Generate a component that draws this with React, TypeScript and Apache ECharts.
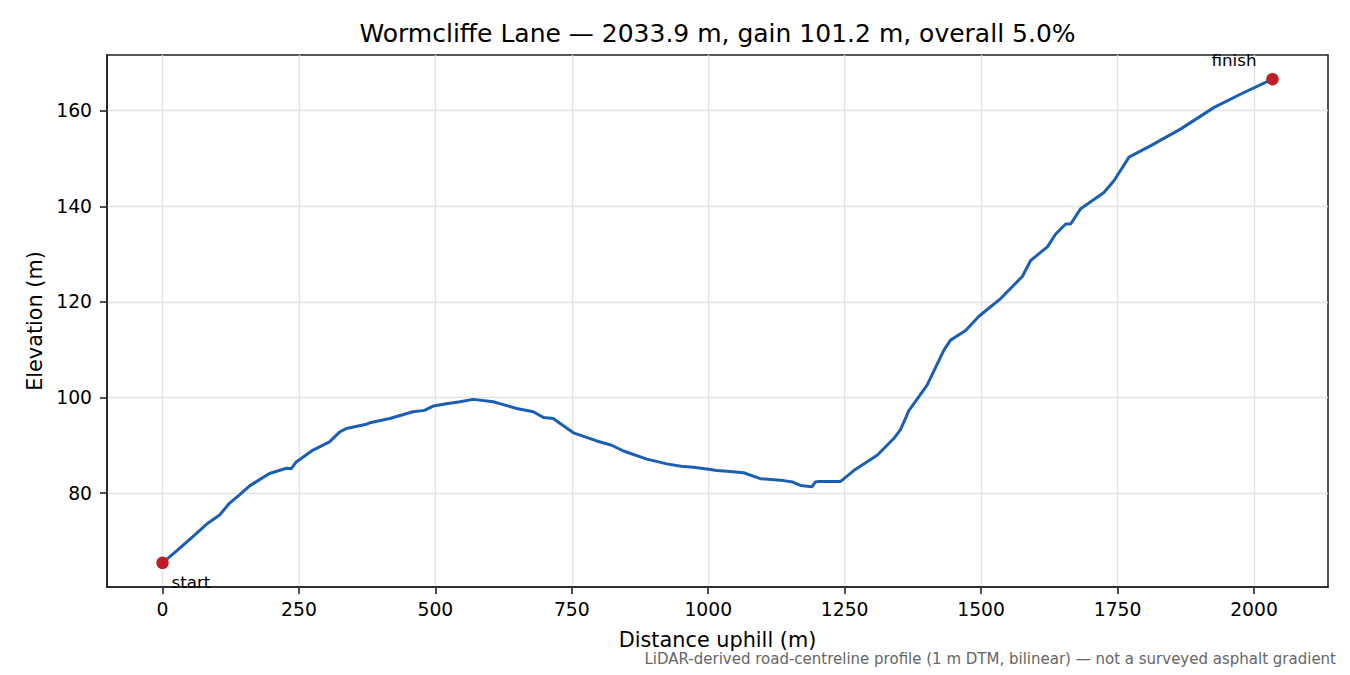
import * as echarts from 'echarts';
import { useEffect, useRef } from 'react';

// distance along the lane (m) and elevation (m)
const distances = [
  0, 28, 55.6, 83, 104.6, 123, 141, 159.6, 196, 227, 236, 245, 275.8, 306, 324.8, 337, 373.7, 380,
  416.5, 459, 480, 496, 520.5, 545, 569, 606, 618, 649, 679.5, 698, 716, 728, 753, 795.7, 823,
  844.6, 887.5, 924, 950, 973, 1000, 1016, 1040, 1064.8, 1095.4, 1138, 1155, 1168.8, 1190, 1196,
  1202.4, 1242, 1266.6, 1309.5, 1340, 1352, 1361.5, 1367.6, 1370.6, 1401, 1431.8, 1444, 1471.6,
  1496, 1535.8, 1575.5, 1591, 1621.4, 1636.7, 1655, 1664, 1682.5, 1725, 1743.7, 1771, 1811, 1866,
  1927, 1976, 2033.9,
];
const elevations = [
  65.4, 68.1, 70.9, 73.7, 75.4, 77.9, 79.6, 81.5, 84.1, 85.2, 85.1, 86.5, 89.0, 90.7, 92.8, 93.5,
  94.4, 94.7, 95.6, 97.0, 97.3, 98.2, 98.7, 99.1, 99.6, 99.1, 98.7, 97.7, 97.0, 95.8, 95.6, 94.6,
  92.6, 90.9, 90.0, 88.8, 87.1, 86.1, 85.6, 85.4, 85.0, 84.7, 84.5, 84.25, 83.0, 82.6, 82.3, 81.6,
  81.3, 82.3, 82.4, 82.4, 84.7, 87.9, 91.4, 93.2, 95.6, 97.3, 97.7, 102.6, 109.9, 112.0, 114.0,
  117.0, 120.7, 125.3, 128.7, 131.5, 134.2, 136.3, 136.3, 139.5, 142.9, 145.4, 150.3, 152.7,
  156.2, 160.7, 163.5, 166.6,
];

const xTicks = [0, 250, 500, 750, 1000, 1250, 1500, 1750, 2000];
const yTicks = [80, 100, 120, 140, 160];

const titleText = 'Wormcliffe Lane — 2033.9 m, gain 101.2 m, overall 5.0%';
const noteText = 'LiDAR-derived road-centreline profile (1 m DTM, bilinear) — not a surveyed asphalt gradient';

const font = 'DejaVu Sans';
const ink = '#222222';

export default function App() {
  const container = useRef<HTMLDivElement | null>(null);

  useEffect(() => {
    if (!container.current) return;
    const chart = echarts.init(container.current, null, { renderer: 'svg' });

    const profile = distances.map((d, i) => [d, elevations[i]]);
    const last = profile.length - 1;

    chart.setOption({
      animation: false,
      backgroundColor: '#ffffff',
      textStyle: { fontFamily: font },
      title: {
        text: titleText,
        left: 712.5,
        top: 16,
        textAlign: 'center',
        textStyle: { fontFamily: font, fontSize: 25, fontWeight: 'normal', color: '#000' },
      },
      grid: {
        left: 107,
        right: 22,
        top: 55,
        bottom: 88,
        show: true,
        borderColor: ink,
        borderWidth: 1.6,
      },
      xAxis: {
        type: 'value',
        min: -101.7,
        max: 2135.6,
        name: 'Distance uphill (m)',
        nameLocation: 'middle',
        nameGap: 42,
        nameTextStyle: { fontFamily: font, fontSize: 20.8, color: '#000' },
        axisLine: { show: true, onZero: false, lineStyle: { color: ink, width: 1.6 } },
        axisTick: { show: true, length: 7, customValues: xTicks, lineStyle: { color: ink, width: 1.6 } },
        axisLabel: {
          customValues: xTicks,
          margin: 13,
          fontFamily: font,
          fontSize: 18.75,
          color: '#000',
          formatter: (v: number) => String(v),
        },
        splitLine: { show: true, lineStyle: { color: '#e3e3e3', width: 1.3 } },
      },
      yAxis: {
        type: 'value',
        min: 60.34,
        max: 171.66,
        name: 'Elevation (m)',
        nameLocation: 'middle',
        nameGap: 61,
        nameRotate: 90,
        nameTextStyle: { fontFamily: font, fontSize: 20.8, color: '#000' },
        axisLine: { show: true, onZero: false, lineStyle: { color: ink, width: 1.6 } },
        axisTick: { show: true, length: 7, customValues: yTicks, lineStyle: { color: ink, width: 1.6 } },
        axisLabel: {
          customValues: yTicks,
          margin: 15,
          fontFamily: font,
          fontSize: 18.75,
          color: '#000',
          formatter: (v: number) => String(v),
        },
        splitLine: { show: true, lineStyle: { color: '#e3e3e3', width: 1.3 } },
      },
      graphic: [
        {
          type: 'text',
          right: 14,
          top: 651,
          style: { text: noteText, fontFamily: font, fontSize: 15, fill: '#666666' },
        },
      ],
      series: [
        {
          type: 'line',
          data: profile,
          showSymbol: false,
          z: 3,
          lineStyle: { color: '#1a5fb4', width: 3 },
        },
        {
          type: 'scatter',
          z: 4,
          symbolSize: 12.5,
          itemStyle: { color: '#c01c28', opacity: 1 },
          data: [
            {
              value: profile[0],
              label: {
                show: true,
                formatter: 'start',
                position: 'inside',
                align: 'left',
                verticalAlign: 'middle',
                offset: [9, 19],
                fontFamily: font,
                fontSize: 16.7,
                color: '#000',
              },
            },
            {
              value: profile[last],
              label: {
                show: true,
                formatter: 'finish',
                position: 'inside',
                align: 'right',
                verticalAlign: 'middle',
                offset: [-16, -19],
                fontFamily: font,
                fontSize: 16.7,
                color: '#000',
              },
            },
          ],
        },
      ],
    } as echarts.EChartsOption);

    return () => {
      chart.dispose();
    };
  }, []);

  return (
    <div
      ref={container}
      style={{ position: 'fixed', left: 0, top: 0, width: '1350px', height: '675px' }}
    />
  );
}
